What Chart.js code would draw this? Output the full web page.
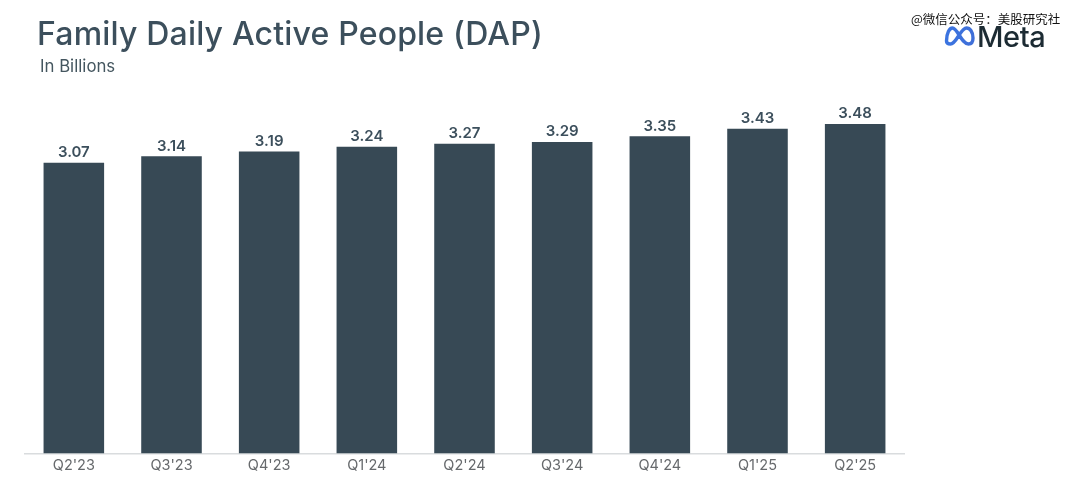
<!DOCTYPE html>
<html>
<head>
<meta charset="utf-8">
<title>Family Daily Active People (DAP)</title>
<script src="https://cdn.jsdelivr.net/npm/chart.js@4"></script>
<style>
body { margin: 0; background: #fff; width: 1080px; height: 484px; overflow: hidden; position: relative; font-family: Inter, sans-serif; }
#wrap { position: absolute; left: 0; top: 0; width: 1080px; height: 484px; }
.txt { position: absolute; white-space: nowrap; line-height: 1; }
#title { left: 37px; top: 18px; font-size: 32px; font-weight: 500; color: #3c4f5c; letter-spacing: 0.18px; }
#sub { left: 40px; top: 58px; font-size: 16.800px; color: #44565f; }
#mark { left: 911px; top: 13px; font-family: "Noto Sans CJK SC"; font-size: 12.500px; color: #111; }
#metaText { left: 977px; top: 22px; font-size: 29px; font-weight: 500; color: #1c2b33; letter-spacing: -0.4px; }
#logo { position: absolute; left: 943px; top: 25px; }
</style>
</head>
<body>
<div id="wrap"><canvas id="dapChart"></canvas></div>
<div class="txt" id="title">Family Daily Active People (DAP)</div>
<div class="txt" id="sub">In Billions</div>
<svg id="logo" width="33" height="22" viewBox="0 0 32 22">
  <defs><linearGradient id="g" x1="0" x2="1"><stop offset="0" stop-color="#3b74e0"/><stop offset="1" stop-color="#3f6fd8"/></linearGradient></defs>
  <path d="M3 16 C3 8 6 3 9 3 C14 3 18 19 25 19 C28 19 29.500 16.500 29.500 13 C29.500 7 26.500 3 23 3 C17 3 13 19 7 19 C4.500 19 3 18 3 16 Z" fill="none" stroke="url(#g)" stroke-width="3.400"/>
</svg>
<div class="txt" id="metaText">Meta</div>
<div class="txt" id="mark">@微信公众号：美股研究社</div>
<script>
const categories = ["Q2'23", "Q3'23", "Q4'23", "Q1'24", "Q2'24", "Q3'24", "Q4'24", "Q1'25", "Q2'25"];
const dapValues = [3.07, 3.14, 3.19, 3.24, 3.27, 3.29, 3.35, 3.43, 3.48];

// value labels above each bar
const valueLabels = {
    id: 'valueLabels',
    afterDatasetsDraw(chart) {
        const ctx = chart.ctx;
        const meta = chart.getDatasetMeta(0);
        ctx.save();
        ctx.font = '600 15px Inter, sans-serif';
        ctx.fillStyle = '#3c4f5c';
        ctx.textAlign = 'center';
        ctx.textBaseline = 'bottom';
        meta.data.forEach(function (bar, i) {
            ctx.fillText(dapValues[i].toFixed(2), bar.x, bar.y - 2.5);
        });
        ctx.restore();
    }
};

new Chart(document.getElementById('dapChart').getContext('2d'), {
    type: 'bar',
    data: {
        labels: categories,
        datasets: [{
            data: dapValues,
            backgroundColor: '#374955',
            borderWidth: 0,
            categoryPercentage: 1,
            barPercentage: 0.62
        }]
    },
    plugins: [valueLabels],
    options: {
        responsive: true,
        maintainAspectRatio: false,
        animation: false,
        layout: { padding: { left: 25, right: 176, top: 100, bottom: 0 } },
        plugins: { legend: { display: false }, tooltip: { enabled: false } },
        scales: {
            x: {
                afterFit: function (scale) { scale.height = 30.5; },
                grid: { display: false, drawTicks: false },
                border: { color: '#d9dcde', width: 1.5 },
                ticks: { color: '#66696c', font: { family: 'Inter, sans-serif', size: 14.5 }, padding: 3, maxRotation: 0 }
            },
            y: {
                display: false,
                min: 0,
                max: 3.733
            }
        }
    }
});
</script>
</body>
</html>
